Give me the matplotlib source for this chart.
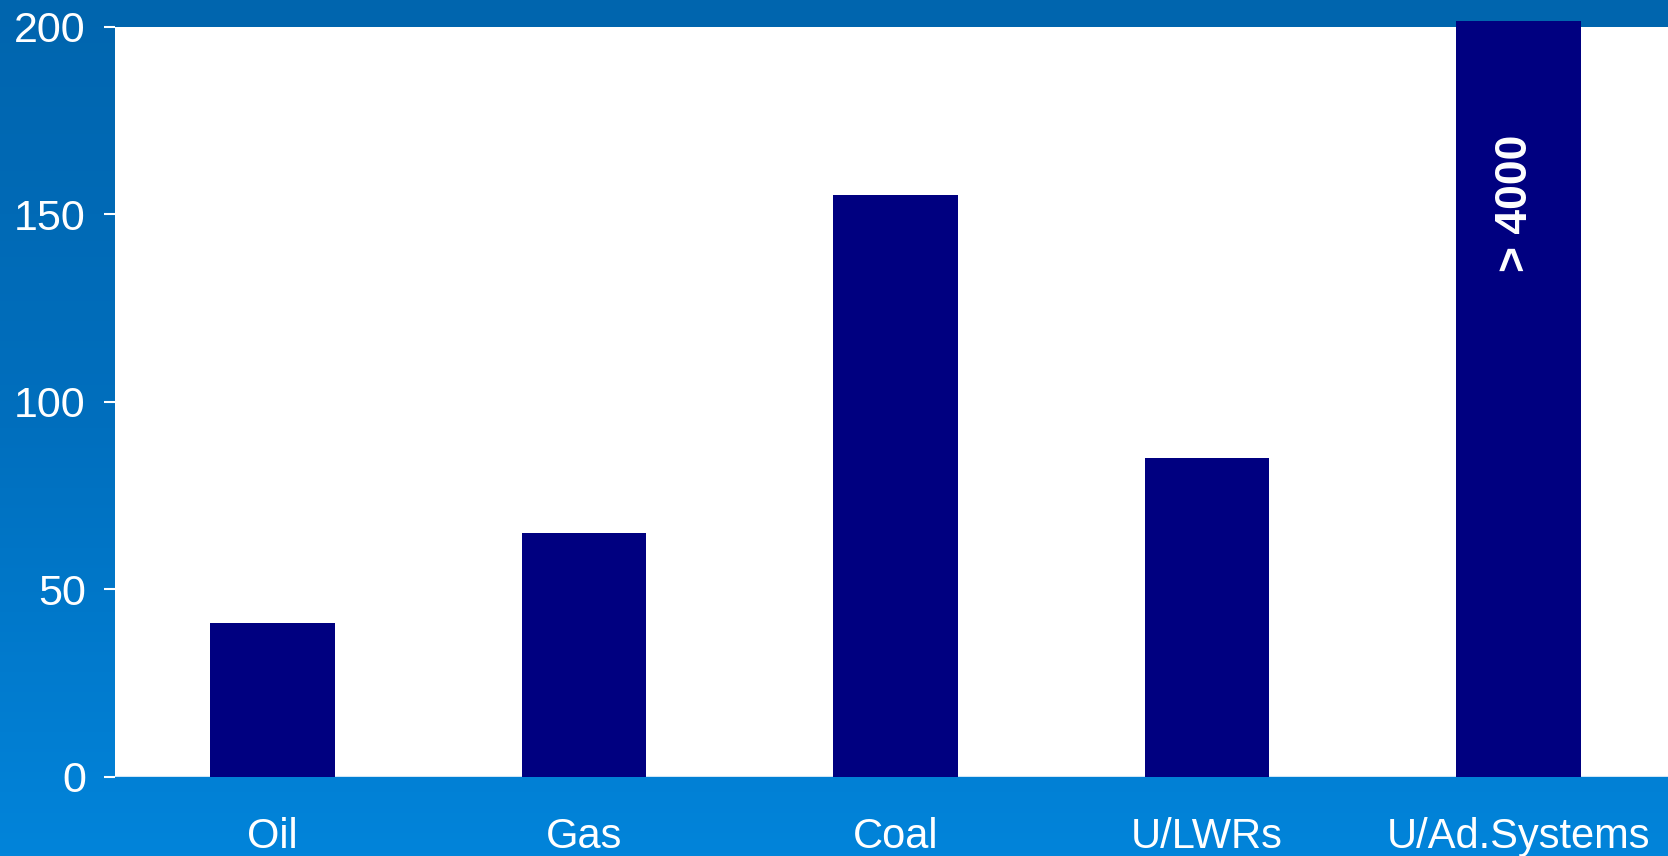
import numpy as np
import matplotlib.pyplot as plt
from matplotlib.colors import LinearSegmentedColormap

# Reserves (years) by energy source
categories = ["Oil", "Gas", "Coal", "U/LWRs", "U/Ad.Systems"]
years = [41, 65, 155, 85, 4000]
bar_label = "> 4000"
y_cap = 201.5  # bars taller than this are cut off just above the frame

plt.rcParams['font.family'] = ['Liberation Sans', 'DejaVu Sans']

fig = plt.figure(figsize=(16.68, 8.56), dpi=100)

# blue gradient background, darker on top
bg = fig.add_axes([0, 0, 1, 1], zorder=-10)
cmap = LinearSegmentedColormap.from_list("slide", ["#0065ae", "#006fbe", "#0284da"])
grad = np.linspace(0, 1, 256).reshape(-1, 1)
bg.imshow(grad, aspect='auto', cmap=cmap, extent=[0, 1, 0, 1], origin='upper')
bg.set_axis_off()

W, H = 1668, 856
left, right, top, bottom = 115, 1668, 26.6, 776.6
ax = fig.add_axes([left / W, 1 - bottom / H, (right - left) / W, (bottom - top) / H])
ax.set_facecolor('white')

x = np.arange(len(categories))
heights = np.minimum(years, y_cap)
bars = ax.bar(x, heights, width=0.4, color='#000080', zorder=3)
for b in bars:
    b.set_clip_on(False)

ax.text(x[-1] - 0.01, 153, bar_label, rotation=90, ha='center', va='center',
        color='white', fontsize=32, fontweight='bold', zorder=4)

ax.set_xlim(-0.505, 4.48)
ax.set_ylim(0, 200)
ax.set_yticks([0, 50, 100, 150, 200])
ax.set_xticks(x)
ax.set_xticklabels(categories)

ax.tick_params(axis='y', colors='white', labelcolor='white', labelsize=31,
               length=8, width=1.5, pad=13)
ax.tick_params(axis='x', labelcolor='white', labelsize=30, length=0, pad=29)
for s in ax.spines.values():
    s.set_visible(False)
ax.axhline(0, color='#cfe6f7', linewidth=1.5, zorder=2)

plt.savefig('out.png', dpi=100)
